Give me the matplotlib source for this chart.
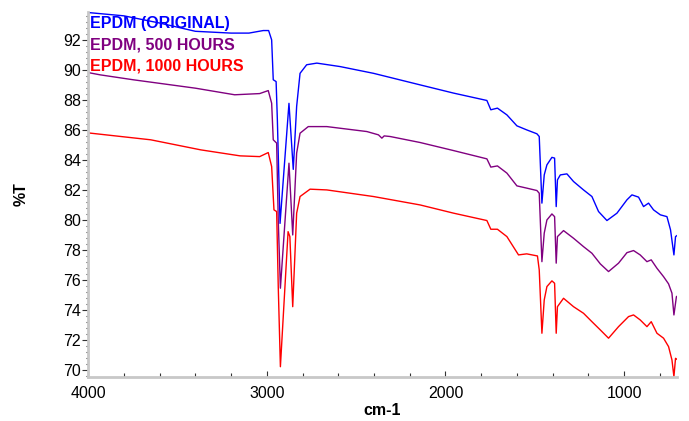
import numpy as np
import matplotlib
matplotlib.use("Agg")
from matplotlib import pyplot as plt
from matplotlib.ticker import MultipleLocator

plt.rcParams['font.family'] = ['Liberation Sans', 'DejaVu Sans']

SERIES_NAMES = ['EPDM (ORIGINAL)', 'EPDM, 500 HOURS', 'EPDM, 1000 HOURS']
COLORS = ['#0000ff', '#800080', '#ff0000']

# wavenumber (cm-1) / %T pairs
wn_original = [4000, 3800, 3600, 3400, 3200, 3100, 3020, 2990, 2973, 2964, 2948, 2941, 2926,
               2876, 2852, 2833, 2814, 2777, 2720, 2590, 2403, 2142, 1954, 1768, 1746, 1709,
               1656, 1600, 1545, 1488, 1475, 1460, 1447, 1432, 1404, 1389, 1380, 1373, 1357,
               1320, 1283, 1227, 1180, 1143, 1096, 1040, 984, 956, 919, 891, 863, 835, 797,
               760, 740, 721, 712, 699]
t_original = [93.85, 93.63, 93.15, 92.6, 92.48, 92.48, 92.65, 92.65, 92.03, 89.37, 89.25, 86.7, 79.8,
              87.8, 83.4, 87.6, 89.8, 90.37, 90.48, 90.25, 89.8, 89.03, 88.48, 87.99, 87.37, 87.48,
              87.03, 86.3, 86.03, 85.77, 85.59, 81.15, 83.03, 83.7, 84.2, 84.15, 80.92, 82.7, 83.03,
              83.1, 82.59, 82.03, 81.59, 80.59, 79.99, 80.48, 81.37, 81.7, 81.55, 80.92, 81.15, 80.7, 80.37,
              80.25, 79.37, 77.7, 78.92, 79.03]

wn_500h = [4000, 3934, 3748, 3400, 3180, 3040, 2992, 2973, 2964, 2945, 2936, 2924, 2876, 2855,
           2833, 2814, 2768, 2664, 2440, 2375, 2356, 2343, 2310, 2142, 1954, 1768, 1746, 1709,
           1656, 1600, 1545, 1488, 1475, 1460, 1447, 1432, 1404, 1389, 1380, 1373, 1339, 1283,
           1227, 1180, 1133, 1087, 1031, 984, 947, 910, 872, 848, 816, 779, 751, 732, 721, 707, 699]
t_500h = [89.85, 89.7, 89.37, 88.81, 88.37, 88.45, 88.65, 87.81, 85.37, 85.15, 80.03, 75.48, 83.81, 79.03,
          84.48, 85.81, 86.25, 86.25, 85.92, 85.7, 85.48, 85.63, 85.59, 85.19, 84.65, 84.1, 83.55, 83.63,
          83.15, 82.3, 82.15, 81.99, 81.81, 77.25, 79.15, 80.03, 80.43, 80.25, 77.15, 78.92, 79.32, 78.81,
          78.25, 77.81, 77.1, 76.59, 77.15, 77.85, 77.99, 77.7, 77.25, 77.37, 76.81, 76.25, 75.77, 75.15, 73.7, 74.92, 74.97]

wn_1000h = [4000, 3650, 3370, 3150, 3040, 2992, 2973, 2960, 2945, 2936, 2924, 2881, 2871, 2855,
            2833, 2814, 2758, 2664, 2403, 2142, 1954, 1768, 1746, 1709, 1656, 1591, 1545, 1485,
            1475, 1460, 1447, 1432, 1404, 1389, 1380, 1373, 1339, 1283, 1227, 1180, 1133, 1087,
            1031, 975, 947, 910, 872, 848, 816, 779, 751, 732, 721, 712, 699]
t_1000h = [85.83, 85.37, 84.7, 84.3, 84.25, 84.52, 83.59, 80.7, 80.59, 75.59, 70.25, 79.25, 78.92, 74.25,
           80.48, 81.59, 82.08, 82.03, 81.59, 81.03, 80.48, 79.99, 79.41, 79.41, 78.92, 77.7, 77.77, 77.63,
           76.7, 72.48, 74.7, 75.59, 75.97, 75.81, 72.48, 74.25, 74.81, 74.25, 73.81, 73.25, 72.7, 72.15,
           72.92, 73.59, 73.7, 73.37, 72.92, 73.25, 72.48, 72.15, 71.59, 70.7, 69.59, 70.81, 70.7]

X_TICKS = [4000, 3000, 2000, 1000]
Y_TICKS = list(range(70, 93, 2))

fig = plt.figure(figsize=(6.89, 4.21), dpi=100)
ax = fig.add_axes([0.128, 0.104, 0.854, 0.868])

for wn, t, c in zip([wn_original, wn_500h, wn_1000h], [t_original, t_500h, t_1000h], COLORS):
    ax.plot(wn, t, color=c, lw=1.0)

ax.set_xlim(4000, 706)
ax.set_ylim(69.55, 93.9)
ax.set_xticks(X_TICKS)
ax.set_yticks(Y_TICKS)
ax.xaxis.set_minor_locator(MultipleLocator(200))
ax.yaxis.set_minor_locator(MultipleLocator(0.4))

for side in ['top', 'right']:
    ax.spines[side].set_visible(False)
for side in ['left', 'bottom']:
    ax.spines[side].set_color('#c8c8c8')
    ax.spines[side].set_linewidth(2)

ax.tick_params(axis='both', which='major', labelsize=11.5, color='#333333', width=0.8)
ax.tick_params(axis='y', which='major', length=4, direction='out', pad=1)
ax.tick_params(axis='y', which='minor', length=1.5, width=0.8, color='#333333', direction='out')
ax.tick_params(axis='x', which='major', length=4, direction='in', pad=6)
ax.tick_params(axis='x', which='minor', length=3, width=0.8, color='#333333', direction='in')

ax.set_xlabel('cm-1', fontsize=11.5, fontweight='bold', labelpad=2)
ax.set_ylabel('%T', fontsize=11.5, fontweight='bold', labelpad=25)

for i, (name, c) in enumerate(zip(SERIES_NAMES, COLORS)):
    ax.text(0.003, 0.988 - i * 0.058, name, transform=ax.transAxes, color=c,
            fontsize=11.5, fontweight='bold', va='top', ha='left')

fig.savefig('out.png', dpi=100)
